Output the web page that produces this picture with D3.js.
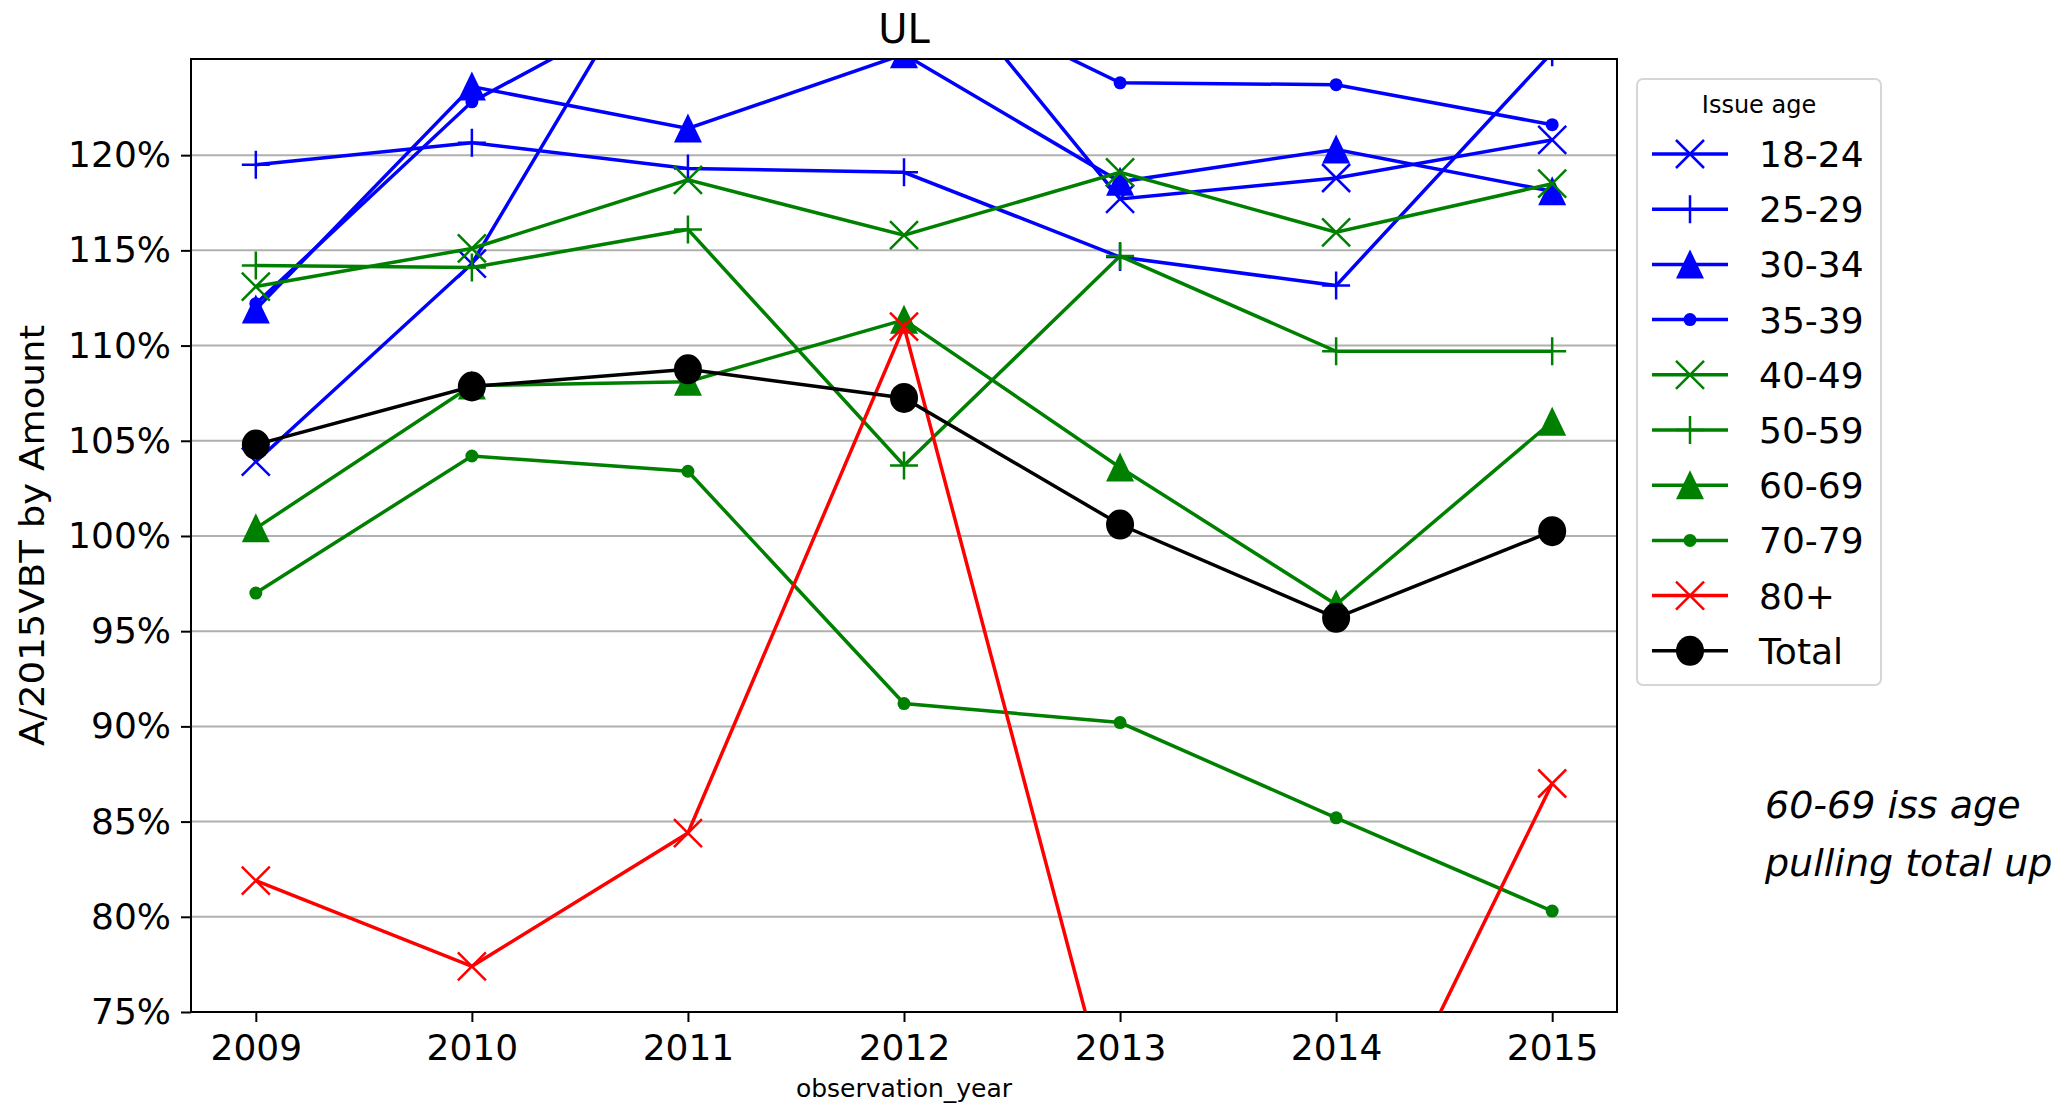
<!DOCTYPE html>
<html>

<head>
  <meta charset="utf-8">
  <script src="https://cdn.jsdelivr.net/npm/d3@7/dist/d3.min.js"></script>
  <style>
    body {
      margin: 0;
      background: white;
    }

    text {
      font-family: 'DejaVu Sans', sans-serif;
    }
  </style>
</head>

<body>
  <script>
    const years = [2009, 2010, 2011, 2012, 2013, 2014, 2015]
    const groups = ['18-24', '25-29', '30-34', '35-39', '40-49', '50-59', '60-69', '70-79', '80+', 'Total']
    const colors = ['blue', 'blue', 'blue', 'blue', 'green', 'green', 'green', 'green', 'red', 'black']
    const markers = ['x', '+', '^', '.', 'x', '+', '^', '.', 'x', 'o']

    // A/2015VBT by amount, in percent
    const v18_24 = [103.9, 114.3, 133.3, 131.6, 117.7, 118.8, 120.8]
    const v25_29 = [119.5, 120.65, 119.3, 119.1, 114.65, 113.15, 125.4]
    const v30_34 = [111.9, 123.6, 121.4, 125.3, 118.6, 120.3, 118.1]
    const v35_39 = [112.2, 122.8, 128.9, 129.3, 123.8, 123.7, 121.6]
    const v40_49 = [113.1, 115.1, 118.7, 115.8, 119.1, 115.95, 118.5]
    const v50_59 = [114.2, 114.1, 116.1, 103.7, 114.7, 109.7, 109.7]
    const v60_69 = [100.4, 107.9, 108.1, 111.35, 103.6, 96.4, 106.0]
    const v70_79 = [97.0, 104.2, 103.4, 91.2, 90.2, 85.2, 80.3]
    const v80 = [81.9, 77.4, 84.4, 111.0, 68.1, 63.8, 87.0]
    const vTotal = [104.8, 107.85, 108.75, 107.25, 100.6, 95.7, 100.25]
    const values = [v18_24, v25_29, v30_34, v35_39, v40_49, v50_59, v60_69, v70_79, v80, vTotal]

    const yTicks = [75, 80, 85, 90, 95, 100, 105, 110, 115, 120]

    const W = 2062, H = 1104
    const plotL = 191, plotR = 1617, plotT = 59, plotB = 1012

    const svg = d3.select('body').append('svg')
      .attr('width', W)
      .attr('height', H)

    const x = d3.scaleLinear().domain([2008.7, 2015.3]).range([plotL, plotR])
    const y = d3.scaleLinear().domain([75, 125.05]).range([plotB, plotT])

    svg.append('clipPath').attr('id', 'plot')
      .append('rect')
      .attr('x', plotL).attr('y', plotT)
      .attr('width', plotR - plotL).attr('height', plotB - plotT)

    // grid
    svg.append('g')
      .selectAll('line')
      .data(yTicks)
      .join('line')
      .attr('x1', plotL).attr('x2', plotR)
      .attr('y1', d => y(d)).attr('y2', d => y(d))
      .attr('stroke', '#b0b0b0')
      .attr('stroke-width', 2)

    function drawMarker(g, type, color) {
      const s = 14
      if (type === 'x') {
        g.append('path')
          .attr('d', `M${-s},${-s}L${s},${s}M${-s},${s}L${s},${-s}`)
          .attr('stroke', color).attr('stroke-width', 2.5).attr('fill', 'none')
      } else if (type === '+') {
        g.append('path')
          .attr('d', `M${-s},0L${s},0M0,${-s}L0,${s}`)
          .attr('stroke', color).attr('stroke-width', 2.5).attr('fill', 'none')
      } else if (type === '^') {
        g.append('path')
          .attr('d', `M0,${-s - 1}L${s},${s}L${-s},${s}Z`)
          .attr('fill', color)
      } else if (type === '.') {
        g.append('circle').attr('r', 6.5).attr('fill', color)
      } else if (type === 'o') {
        g.append('ellipse').attr('rx', 14).attr('ry', 15).attr('fill', color)
      }
    }

    const lineGen = d3.line()
      .x((d, i) => x(years[i]))
      .y(d => y(d))

    const plot = svg.append('g').attr('clip-path', 'url(#plot)')

    groups.forEach((name, k) => {
      const g = plot.append('g')
      g.append('path')
        .attr('d', lineGen(values[k]))
        .attr('fill', 'none')
        .attr('stroke', colors[k])
        .attr('stroke-width', 3.5)
      values[k].forEach((v, i) => {
        const m = g.append('g').attr('transform', `translate(${x(years[i])},${y(v)})`)
        drawMarker(m, markers[k], colors[k])
      })
    })

    // axes
    const xAxis = svg.append('g')
      .attr('transform', `translate(0,${plotB})`)
      .call(d3.axisBottom(x).tickValues(years).tickFormat(d3.format('d')).tickSize(10).tickPadding(6))
    const yAxis = svg.append('g')
      .attr('transform', `translate(${plotL},0)`)
      .call(d3.axisLeft(y).tickValues(yTicks).tickFormat(d => d + '%').tickSize(10).tickPadding(10))

    for (const a of [xAxis, yAxis]) {
      a.select('.domain').remove()
      a.selectAll('.tick line').attr('stroke', 'black').attr('stroke-width', 2)
      a.selectAll('.tick text')
        .attr('font-size', 36)
        .attr('font-family', "'DejaVu Sans', sans-serif")
        .attr('fill', 'black')
    }
    xAxis.selectAll('.tick text').attr('dy', '0.9em')

    svg.append('rect')
      .attr('x', plotL).attr('y', plotT)
      .attr('width', plotR - plotL).attr('height', plotB - plotT)
      .attr('fill', 'none')
      .attr('stroke', 'black')
      .attr('stroke-width', 2)

    svg.append('text')
      .attr('x', (plotL + plotR) / 2).attr('y', 43)
      .attr('text-anchor', 'middle')
      .attr('font-size', 40)
      .text('UL')

    svg.append('text')
      .attr('x', (plotL + plotR) / 2).attr('y', 1097)
      .attr('text-anchor', 'middle')
      .attr('font-size', 25)
      .text('observation_year')

    svg.append('text')
      .attr('transform', `translate(44,${(plotT + plotB) / 2}) rotate(-90)`)
      .attr('text-anchor', 'middle')
      .attr('font-size', 34)
      .attr('textLength', 421)
      .attr('lengthAdjust', 'spacingAndGlyphs')
      .text('A/2015VBT by Amount')

    // legend
    const legend = svg.append('g')
    legend.append('rect')
      .attr('x', 1637).attr('y', 79)
      .attr('width', 244).attr('height', 606)
      .attr('rx', 6)
      .attr('fill', 'white')
      .attr('stroke', '#d6d6d6')
      .attr('stroke-width', 2)
    legend.append('text')
      .attr('x', 1759).attr('y', 113)
      .attr('text-anchor', 'middle')
      .attr('font-size', 24)
      .text('Issue age')

    groups.forEach((name, k) => {
      const ly = 154 + k * 55.2
      const row = legend.append('g')
      row.append('line')
        .attr('x1', 1652).attr('x2', 1728)
        .attr('y1', ly).attr('y2', ly)
        .attr('stroke', colors[k])
        .attr('stroke-width', 3.5)
      drawMarker(row.append('g').attr('transform', `translate(1690,${ly})`), markers[k], colors[k])
      row.append('text')
        .attr('x', 1759).attr('y', ly)
        .attr('dy', '0.36em')
        .attr('font-size', 36)
        .text(name)
    })

    // note
    const note = svg.append('text')
      .attr('font-family', "'Open Sans', sans-serif")
      .attr('font-style', 'italic')
      .attr('font-weight', 300)
      .attr('font-size', 38)
    note.append('tspan').attr('x', 1765).attr('y', 818).text('60-69 iss age')
    note.append('tspan').attr('x', 1765).attr('y', 876).text('pulling total up')
  </script>
</body>

</html>
